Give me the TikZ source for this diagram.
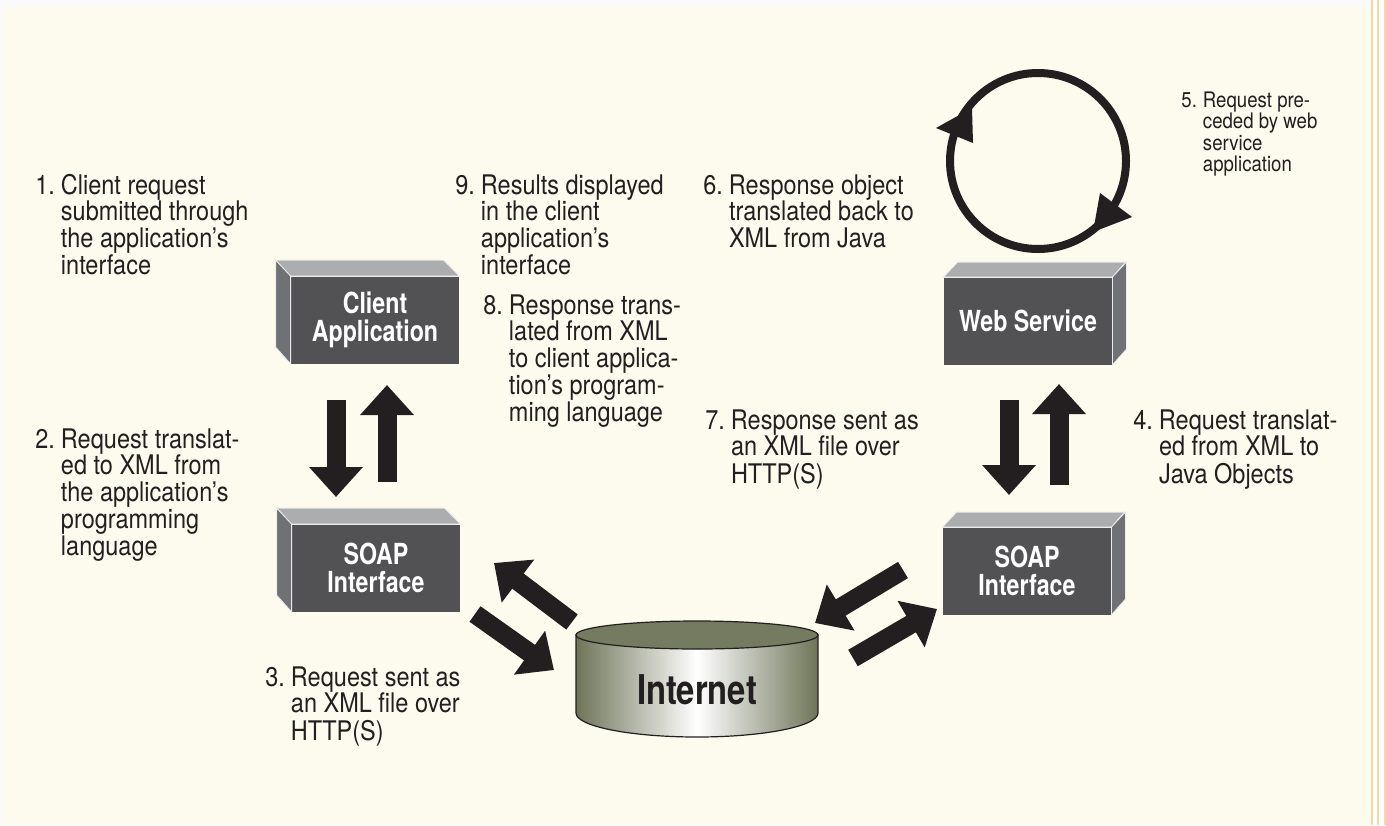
\documentclass[tikz,border=0pt]{standalone}
\usepackage{fontspec}
\setmainfont{TeX Gyre Heros}[FakeStretch=0.87]
\newfontfamily\labelfont{TeX Gyre Heros}[FakeStretch=0.8]
\usetikzlibrary{arrows.meta, positioning, calc}
\definecolor{cream}{HTML}{FDFAEE}
\definecolor{frontgray}{HTML}{525254}
\definecolor{topgray}{HTML}{ACADAF}
\definecolor{sidegray}{HTML}{707174}
\definecolor{ink}{HTML}{231F20}
\definecolor{olive}{HTML}{6E7458}
\definecolor{stripe}{HTML}{F8D5A5}
\tikzset{
  box/.style={rectangle, fill=frontgray, minimum width=84pt, minimum height=43.5pt,
              inner sep=0pt, align=center, text=white,
              font=\labelfont\bfseries\fontsize{14.5}{14}\selectfont},
  boxtop/.style={fill=topgray, draw=white!85!gray, line width=0.4pt},
  boxside/.style={fill=sidegray, draw=white!85!gray, line width=0.4pt},
  note/.style={anchor=base west, inner sep=0pt, text=ink,
               font=\fontsize{13.5}{12}\selectfont},
  bigarrow/.style={draw=ink, line width=9.5pt,
                   -{Triangle[length=15pt, width=26pt]}},
}
% numbered caption: number, then lines with a hanging indent
\newcommand\numitem[2]{\begin{tabular}[t]{@{}l@{\hspace{3pt}}l@{}}#1&\begin{tabular}[t]{@{}l@{}}#2\end{tabular}\end{tabular}}
% side faces of the 3D boxes
\newcommand\boxleft[1]{%
  \filldraw[boxtop] (#1.north west) -- ++(-15,-16) -- ++(168,0) -- (#1.north east) -- cycle;
  \filldraw[boxside] (#1.north west) -- ++(-15,-16) -- ++(0,87) -- (#1.south west) -- cycle;}
\newcommand\boxright[1]{%
  \filldraw[boxtop] (#1.north west) -- ++(14,-15) -- ++(168,0) -- (#1.north east) -- cycle;
  \filldraw[boxside] (#1.north east) -- ++(14,-15) -- ++(0,87) -- (#1.south east) -- cycle;}
\begin{document}
\begin{tikzpicture}[x=0.5pt, y=-0.5pt]
  \useasboundingbox (0,0) rectangle (1386,825);
  % background and right hand stripe
  \fill[white!96!gray] (0,0) rectangle (1386,825);
  \fill[cream] (3,7) rectangle (1371,825);
  \fill[white!97!cream] (1371,0) rectangle (1386,825);
  \foreach \sx in {1371.5,1378,1384.5}
    \draw[stripe, line width=1pt] (\sx,0) -- (\sx,825);

  % boxes
  \node[box] (client) at (375,320) {Client\\Application};
  \node[box] (soapl)  at (376,568) {SOAP\\Interface};
  \node[box] (websvc) at (1028,321) {Web Service};
  \node[box] (soapr)  at (1027,571) {SOAP\\Interface};
  \boxleft{client} \boxleft{soapl}
  \boxright{websvc} \boxright{soapr}

  % internet cylinder
  \shade[left color=olive, right color=olive, middle color=white, draw=ink, line width=0.6pt]
    (576,635) -- (576,713) arc[start angle=180, end angle=0, x radius=121, y radius=24]
    -- (818,635) -- cycle;
  \filldraw[fill=olive!95!white, draw=ink, line width=0.6pt]
    (697,635) ellipse [x radius=121, y radius=14];
  \node[font=\labelfont\bfseries\fontsize{20.5}{20}\selectfont, text=ink] (inet) at (697,690) {Internet};

  % arrow ends
  \coordinate (c1) at (336,400); \coordinate (c2) at (336,497);
  \coordinate (c3) at (387,482); \coordinate (c4) at (387,385);
  \coordinate (w1) at (1009,400); \coordinate (w2) at (1009,495);
  \coordinate (w3) at (1059,485); \coordinate (w4) at (1059,384);
  \coordinate (l1) at (475,614); \coordinate (l2) at (554,670);
  \coordinate (l3) at (572,622); \coordinate (l4) at (494,563);
  \coordinate (r1) at (903,570); \coordinate (r2) at (815,623);
  \coordinate (r3) at (853,658); \coordinate (r4) at (937,609);

  \draw[bigarrow] (c1) -- (c2); \draw[bigarrow] (c3) -- (c4);
  \draw[bigarrow] (w1) -- (w2); \draw[bigarrow] (w3) -- (w4);
  \draw[bigarrow] (l1) -- (l2); \draw[bigarrow] (l3) -- (l4);
  \draw[bigarrow] (r1) -- (r2); \draw[bigarrow] (r3) -- (r4);

  % processing loop above the web service
  \coordinate (loop) at (1038,161);
  \draw[ink, line width=4pt] (loop) circle (44pt);
  \fill[ink] ($(loop)+(-102,-33)$) -- ($(loop)+(-66,-53)$) -- ($(loop)+(-65,-18)$) -- cycle;
  \fill[ink] ($(loop)+(94,56)$) -- ($(loop)+(62,32)$) -- ($(loop)+(55,71)$) -- cycle;

  % captions
  \node[note] (t1) at (35,194) {\numitem{1.}{Client request\\submitted through\\the application's\\interface}};
  \node[note] (t2) at (35,448) {\numitem{2.}{Request translat-\\ed to XML from\\the application's\\programming\\language}};
  \node[note] (t3) at (265,686) {\numitem{3.}{Request sent as\\an XML file over\\HTTP(S)}};
  \node[note] (t4) at (1133,429) {\numitem{4.}{Request translat-\\ed from XML to\\Java Objects}};
  \node[note, font=\fontsize{10.7}{10.35}\selectfont] (t5) at (1181,107)
    {\numitem{5.}{Request pre-\\ceded by web\\service\\application}};
  \node[note] (t6) at (703,194) {\numitem{6.}{Response object\\translated back to\\XML from Java}};
  \node[note] (t7) at (705,429) {\numitem{7.}{Response sent as\\an XML file over\\HTTP(S)}};
  \node[note] (t8) at (483,314) {\numitem{8.}{Response trans-\\lated from XML\\to client applica-\\tion's program-\\ming language}};
  \node[note] (t9) at (455,194) {\numitem{9.}{Results displayed\\in the client\\application's\\interface}};
\end{tikzpicture}
\end{document}
